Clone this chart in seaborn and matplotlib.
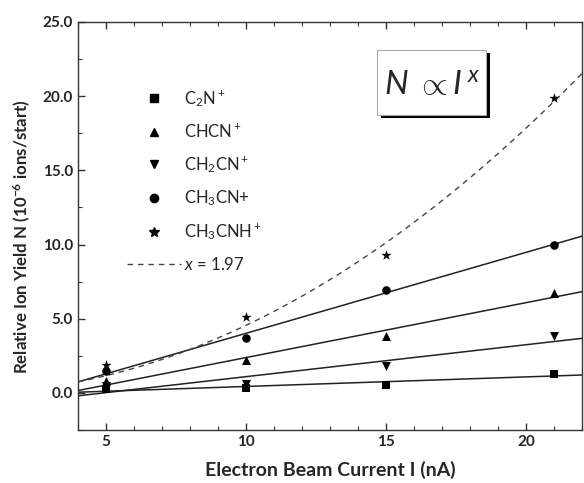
import numpy as np
import pandas as pd
import seaborn as sns
import matplotlib
matplotlib.use("Agg")
import matplotlib.pyplot as plt
from matplotlib.lines import Line2D
from matplotlib.patches import Rectangle

# ---- data ----
current = [5, 10, 15, 21]
c2n = [0.25, 0.35, 0.55, 1.3]
chcn = [0.8, 2.2, 3.85, 6.75]
ch2cn = [0.5, 0.6, 1.8, 3.85]
ch3cn = [1.45, 3.67, 6.95, 10.0]
ch3cnh = [1.9, 5.1, 9.3, 19.9]
exponent = 1.97
species = ["C2N+", "CHCN+", "CH2CN+", "CH3CN+", "CH3CNH+"]
labels = [r"C$_2$N$^+$", r"CHCN$^+$", r"CH$_2$CN$^+$", r"CH$_3$CN+", r"CH$_3$CNH$^+$"]
markers = ["s", "^", "v", "o", "*"]
msizes = [30, 42, 42, 38, 60]
xticks = [5, 10, 15, 20]
yticks = [0.0, 5.0, 10.0, 15.0, 20.0, 25.0]

sns.set_theme(style="ticks")
plt.rcParams["font.family"] = ["Lato", "DejaVu Sans"]
plt.rcParams["mathtext.fontset"] = "custom"
plt.rcParams["mathtext.rm"] = "Lato"
plt.rcParams["mathtext.it"] = "Lato:italic"
plt.rcParams["mathtext.bf"] = "Lato:bold"

fig = plt.figure(figsize=(5.84, 4.83), dpi=100)
ax = fig.add_axes([0.1336, 0.1097, 0.8630, 0.8448])

series = [c2n, chcn, ch2cn, ch3cn, ch3cnh]
rows = []
for sp, vals in zip(species, series):
    for xv, yv in zip(current, vals):
        rows.append({"I": xv, "N": yv, "species": sp})
df = pd.DataFrame(rows)

xs = np.linspace(4, 22, 200)
fit_rows = []
for sp, vals in zip(species[:4], series[:4]):
    m, b = np.polyfit(current, vals, 1)
    for xv in xs:
        fit_rows.append({"I": xv, "N": m * xv + b, "species": sp})
fit_df = pd.DataFrame(fit_rows)

sns.lineplot(data=fit_df, x="I", y="N", units="species", estimator=None,
             color="#222222", lw=1.1, ax=ax, legend=False)

cur = np.array(current, float)
yv = np.array(ch3cnh, float)
a = np.sum(yv * cur ** exponent) / np.sum(cur ** (2 * exponent))
pow_df = pd.DataFrame({"I": xs, "N": a * xs ** exponent})
sns.lineplot(data=pow_df, x="I", y="N", color="#444444", lw=1.0,
             linestyle=(0, (4, 3.5)), ax=ax, legend=False)

for sp, mk, ms in zip(species, markers, msizes):
    sub = df[df["species"] == sp]
    sns.scatterplot(data=sub, x="I", y="N", marker=mk, s=ms, color="black",
                    edgecolor="black", linewidth=0, ax=ax, legend=False, zorder=5)

ax.set_xlim(4, 22)
ax.set_ylim(-2.5, 25)
ax.set_xticks(xticks)
ax.set_xticklabels([str(t) for t in xticks])
ax.set_yticks(yticks)
ax.set_yticklabels([f"{t:.1f}" for t in yticks])
ax.set_xticks(np.arange(4, 23, 1), minor=True)
ax.set_yticks(np.arange(-2.5, 25.1, 2.5), minor=True)
ax.tick_params(which="both", direction="in", top=True, right=False, color="#333333")
ax.tick_params(which="major", length=5, width=1, labelsize=11)
ax.tick_params(which="minor", length=3, width=0.8)
for lab in ax.get_xticklabels() + ax.get_yticklabels():
    lab.set_fontweight("bold")
for s in ax.spines.values():
    s.set_visible(True)
    s.set_color("#333333")
    s.set_linewidth(1.0)

ax.set_xlabel("Electron Beam Current I (nA)", fontsize=14, fontweight="bold", labelpad=9)
ax.set_ylabel(r"Relative Ion Yield N (10$^{\mathbf{-6}}$ ions/start)", fontsize=12.2,
              fontweight="bold")
ax.yaxis.set_label_coords(-0.09, 0.475)

handles = []
for lab, mk in zip(labels, markers):
    handles.append(Line2D([], [], marker=mk, color="black", ls="none",
                          markersize=6 if mk != "*" else 7.5, label=lab))
handles.append(Line2D([], [], color="#444444", lw=1.0, ls=(0, (4, 3.5)),
                      label=r"$x$ = 1.97"))
leg = ax.legend(handles=handles, loc="upper left", bbox_to_anchor=(0.068, 0.875),
                frameon=False, fontsize=12, labelspacing=0.82, handlelength=3.2,
                handletextpad=0.2)

# boxed formula with drop shadow
x0, x1, y0, y1 = 0.593, 0.810, 0.772, 0.931
ax.add_patch(Rectangle((x0 + 0.008, y0 - 0.008), x1 - x0, y1 - y0,
                       transform=ax.transAxes, facecolor="black", edgecolor="none", zorder=6))
ax.add_patch(Rectangle((x0, y0), x1 - x0, y1 - y0, transform=ax.transAxes,
                       facecolor="white", edgecolor="#aaaaaa", lw=0.8, zorder=7))
ax.text((x0 + x1) / 2, (y0 + y1) / 2 - 0.005, r"$N\ \propto I^{\,x}$", transform=ax.transAxes,
        ha="center", va="center", fontsize=24, zorder=8)

fig.savefig("out.png", dpi=100)
